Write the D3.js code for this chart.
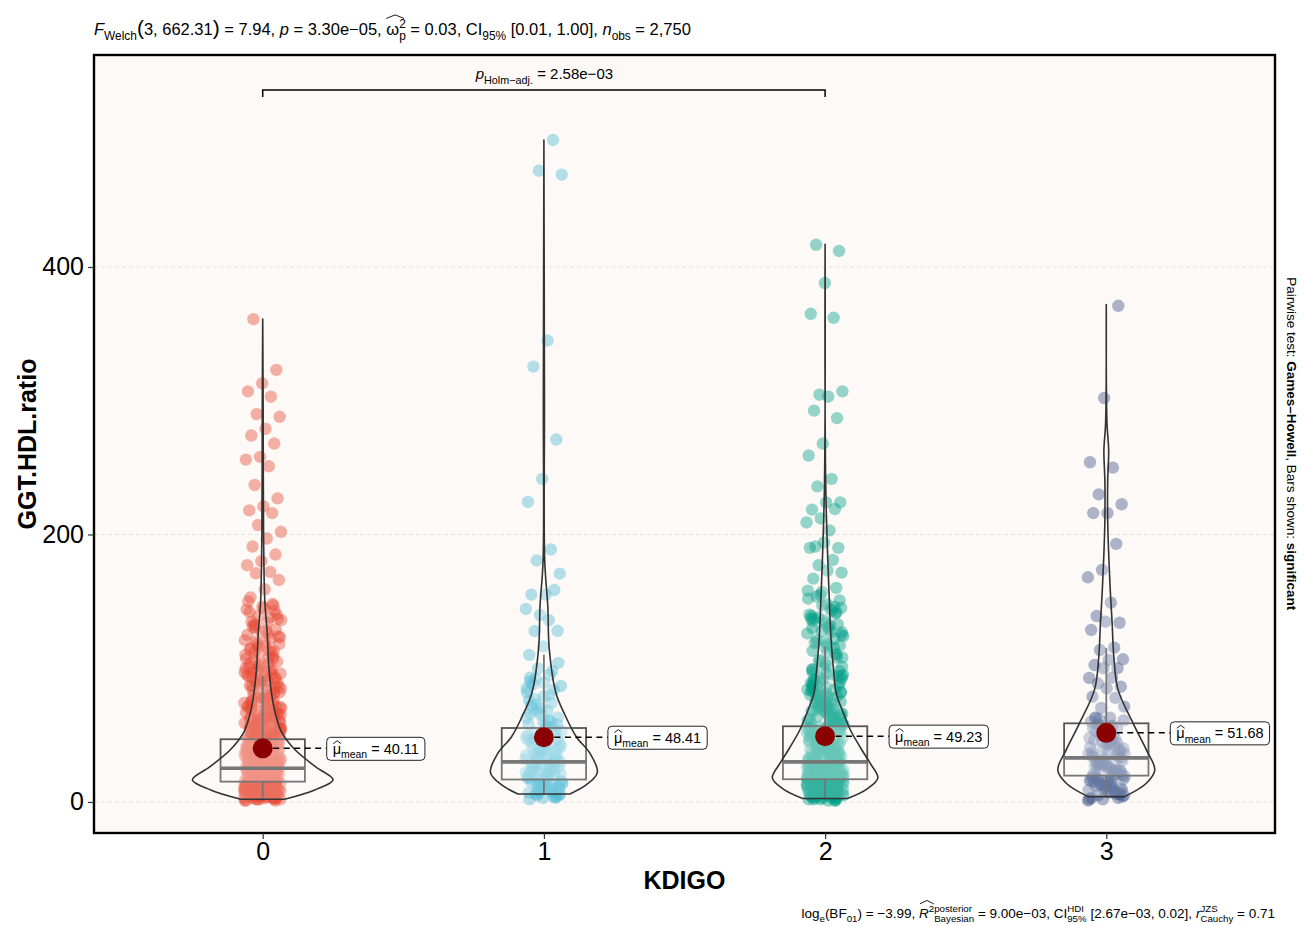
<!DOCTYPE html>
<html><head><meta charset="utf-8">
<script src="https://cdn.jsdelivr.net/npm/d3@7"></script>
<style>body{margin:0;background:#fff}svg{display:block;font-family:"Liberation Sans",Arial,Helvetica,sans-serif}</style>
</head><body><svg id="c" width="1306" height="926"></svg>
<script>
// ---------------- data ----------------
const categories = ["0","1","2","3"];
const groupColors = ["#E64B35","#4DBBD5","#00A087","#3C5488"];
const meanValues = [40.11, 48.41, 49.23, 51.68];
const meanLabels = ["40.11","48.41","49.23","51.68"];
const q1Values = [15.2, 16.8, 17.0, 19.7];
const medianValues = [25.2, 30.0, 30.0, 33.0];
const q3Values = [46.9, 55.3, 56.6, 58.8];
const whiskerLow = [1.5, 6, 2.6, 4];
const whiskerHigh = [94, 110, 116, 115];
const yTicks = [0, 200, 400];

// violin outlines: [value, relative half-width]
const violin0 = [[2,0.31],[9,0.74],[16.5,1.0],[26,0.76],[39,0.46],[52,0.27],[64,0.19],[76,0.14],[101,0.086],[126,0.064],[150,0.03],[200,0.012],[300,0.006],[361,0]];
const violin1 = [[6,0.37],[12.7,0.6],[22,0.76],[36,0.66],[48.8,0.46],[65,0.3],[81.7,0.17],[114.7,0.076],[147.6,0.054],[180,0.012],[300,0.008],[495,0]];
const violin2 = [[2.6,0.32],[9.8,0.6],[18,0.75],[29,0.64],[40,0.51],[53.8,0.36],[67.7,0.25],[81.5,0.157],[95.4,0.126],[123,0.083],[151,0.06],[234,0.01],[417,0]];
const violin3 = [[4,0.26],[14,0.57],[24,0.69],[39,0.57],[59,0.38],[84,0.167],[108.6,0.107],[134,0.083],[158,0.057],[208,0.021],[240,0.02],[263,0.034],[283,0.01],[372,0]];

// observations (GGT.HDL.ratio) per KDIGO group
const values0 = [
3,7,12,18,24,31,9,15,21,27,35,44,5,11,17,22,29,38,48,60,
2,8,13,19,26,33,41,52,66,4,10,16,23,28,36,45,57,71,6,14,
20,25,32,39,50,63,78,1,9,12,17,24,30,37,46,55,68,84,3,8,
15,19,26,34,42,53,64,75,6,11,18,22,27,33,40,49,59,72,87,2,
7,13,16,21,28,35,43,51,62,74,4,10,14,20,25,31,38,47,58,69,
81,5,9,12,17,23,29,36,44,54,65,77,3,8,13,18,24,30,39,48,
56,67,79,1,6,11,16,22,27,34,41,50,61,73,86,4,10,15,19,26,
32,40,46,57,70,83,7,12,18,23,28,37,45,53,63,76,2,9,14,21,
25,33,42,49,60,71,80,5,11,17,24,30,36,43,52,62,74,88,8,13,
20,27,35,47,58,68,82,3,16,22,29,38,44,55,66,78,6,19,31,54,
4,10,14,19,23,28,33,39,45,52,6,12,16,21,26,31,36,42,50,58,
2,8,13,17,22,27,32,37,43,49,56,64,5,9,15,20,25,30,35,41,
47,53,61,70,3,7,11,16,19,24,29,34,40,46,55,65,76,1,10,14,
18,23,27,33,38,44,51,59,68,80,6,12,15,21,26,30,36,43,48,57,
67,73,4,8,13,17,22,28,32,39,45,54,62,71,79,2,9,11,20,24,
29,34,41,47,56,63,72,84,5,14,18,25,31,37,42,50,60,66,77,87,
3,7,12,16,21,26,35,40,46,53,61,69,75,82,91,100,104,112,
89,92,94,96,99,85,91,97,93,88,95,98,90,86,94,
104,109,116,121,126,133,140,146,150,112,118,123,128,135,143,101,107,113,130,137,
145,142,148,139,136,134,131,129,127,125,122,120,118,117,115,113,111,110,108,106,
105,103,101,99,98,96,95,93,92,90,144,138,132,124,119,114,107,102,97,91,
361,323,313,307,303,290,288,279,274,268,258,256,251,237,227,221,218,216,207,202,
197,191,185,180,177,172,171,166,159,153,147];
const values1 = [
5,10,16,22,29,37,48,61,77,8,13,19,26,33,42,55,70,3,12,18,
24,31,40,51,66,84,7,14,21,27,35,45,58,74,9,15,20,28,38,49,
63,80,6,11,17,23,30,39,53,68,88,4,13,19,25,34,44,57,72,10,
16,22,29,36,47,60,76,8,14,21,32,41,52,65,82,11,18,26,43,90,
4,9,14,19,25,31,38,46,56,68,6,11,17,23,28,35,43,52,63,79,
2,8,12,16,21,27,33,40,50,60,73,5,10,15,20,26,32,39,47,58,
3,7,13,24,30,36,44,54,70,85,
95,92,104,89,93,
495,472,469,345,325.5,271,241.5,224.3,188.8,180.6,170.7,155,155,158.5,139.8,144.3,136,127.8,128,116.3,
110,98,99.8,86.7];
const values2 = [
4,9,14,20,27,35,45,57,70,86,2,7,12,17,23,30,39,50,63,78,
95,6,11,16,22,28,36,46,58,72,88,3,8,13,19,25,32,41,52,65,
80,101,5,10,15,21,26,34,43,54,67,83,1,9,14,18,24,31,40,49,
60,74,92,112,4,8,12,17,22,29,37,47,59,73,90,6,11,16,20,27,
33,42,53,66,81,99,3,7,13,18,23,30,38,48,61,76,94,118,2,10,
15,21,26,35,44,55,68,84,105,5,9,14,19,25,32,39,51,64,79,97,
8,12,17,24,28,36,45,56,69,85,108,1,6,11,16,22,30,41,58,71,
87,3,10,20,27,34,43,53,62,77,93,125,7,13,18,25,31,40,50,63,
75,89,115,4,9,15,21,29,37,46,57,70,82,102,130,12,19,26,35,48,
5,14,23,33,44,59,73,91,110,8,17,28,39,52,67,84,122,2,24,36,
3,8,13,18,24,29,34,42,51,60,71,84,6,11,16,21,27,33,40,48,
57,68,79,92,2,7,12,17,23,28,35,43,52,62,74,87,100,5,10,15,
20,25,31,38,46,55,65,76,89,104,4,9,14,19,26,32,37,44,53,63,
72,82,96,113,1,6,11,16,22,27,33,39,47,56,66,78,91,108,3,8,
13,18,23,29,36,42,49,58,69,81,94,120,7,12,17,22,28,34,41,50,
61,70,83,98,116,137,5,10,15,21,26,31,38,45,54,64,75,86,99,111,
9,19,30,42,55,68,80,95,106,127,
131,137,142,147,152,127,121,117,134,139,146,155,124,129,119,
133,136,140,143,138,145,148,135,141,128,126,132,
416.6,412,388,365,362,304.5,307,303,292.6,287,268,259,241.6,236,224,224,218.6,219,212,209,
203,191,190,194,190,181,177,171.5,173,167,160,157,158,144,153.5,150.7];
const values3 = [
4,9,15,21,28,36,46,58,7,12,18,24,31,40,51,63,3,10,16,22,
27,33,43,55,6,13,19,25,30,38,48,60,8,14,20,26,34,44,53,2,
11,17,23,29,37,47,57,5,12,18,24,32,41,50,62,9,15,21,35,45,
1,14,28,39,52,
3,8,13,17,22,27,33,40,48,57,5,10,15,19,24,29,36,44,53,6,
11,16,20,26,31,38,46,55,2,9,14,18,23,28,34,42,50,61,7,12,
371,302,254,250,230,222.6,216,216,193,173.5,168,149,139,134,134.8,128.6,115.4,113.6,106.7,106.2,
102.4,100,100,92.7,93,88.7,86.2,85,78.7,77.8,70.3,71.3,63,63];

const groupValues = [values0, values1, values2, values3];
const violins = [violin0, violin1, violin2, violin3];

// ---------------- layout ----------------
const svg = d3.select("#c");
const P = {l:94, r:1275, t:55, b:833};
const x = d3.scalePoint().domain(categories).range([P.l, P.r]).padding(0.6);
const y = d3.scaleLinear().domain([-23.2, 558.5]).range([P.b, P.t]);
const step = x.step();
const vw = d3.scaleLinear().domain([0,1]).range([0, 0.25*step]);
const boxHalf = 0.15*step;
const jitterHalf = 0.066*step;
const ptR = 6.2;

svg.append("rect").attr("x",P.l).attr("y",P.t).attr("width",P.r-P.l).attr("height",P.b-P.t).attr("fill","#FDF9F6");

// grid
svg.append("g").selectAll("line").data(yTicks).join("line")
  .attr("x1",P.l).attr("x2",P.r).attr("y1",d=>y(d)).attr("y2",d=>y(d))
  .attr("stroke","#E2DDD8").attr("stroke-width",0.9).attr("stroke-dasharray","4,3");

const plot = svg.append("g");
// points
categories.forEach((c,gi)=>{
  plot.append("g").selectAll("circle").data(groupValues[gi]).join("circle")
    .attr("cx",(d,i)=> x(c) + (((i*0.6180339887 + gi*0.31) % 1) - 0.5)*2*jitterHalf)
    .attr("cy",d=>y(d)).attr("r",ptR)
    .attr("fill",groupColors[gi]).attr("fill-opacity",0.42);
});
// boxplots
categories.forEach((c,gi)=>{
  const g = plot.append("g");
  const cx = x(c);
  g.append("line").attr("x1",cx).attr("x2",cx).attr("y1",y(q3Values[gi])).attr("y2",y(whiskerHigh[gi])).attr("stroke","#555").attr("stroke-width",1.8);
  g.append("line").attr("x1",cx).attr("x2",cx).attr("y1",y(q1Values[gi])).attr("y2",y(whiskerLow[gi])).attr("stroke","#555").attr("stroke-width",1.8);
  g.append("rect").attr("x",cx-boxHalf).attr("width",2*boxHalf).attr("y",y(q3Values[gi])).attr("height",y(q1Values[gi])-y(q3Values[gi]))
    .attr("fill","#fff").attr("fill-opacity",0.25).attr("stroke","#555").attr("stroke-width",1.8);
  g.append("line").attr("x1",cx-boxHalf).attr("x2",cx+boxHalf).attr("y1",y(medianValues[gi])).attr("y2",y(medianValues[gi])).attr("stroke","#555").attr("stroke-width",3.6);
});
// violins
categories.forEach((c,gi)=>{
  const cx = x(c);
  const area = d3.area().y(d=>y(d[0])).x0(d=>cx - vw(d[1])).x1(d=>cx + vw(d[1])).curve(d3.curveCatmullRom);
  plot.append("path").attr("d",area(violins[gi])).attr("fill","#fff").attr("fill-opacity",0.2)
    .attr("stroke","#333").attr("stroke-width",1.6).attr("stroke-linejoin","round");
});

// rich text helper (sub/superscripts, stacked scripts, hats)
function rich(parent, x0, y0, size, parts, anchor){
  const t = parent.append("text").attr("x",x0).attr("y",y0).attr("font-size",size).attr("fill","#000");
  let cur = 0, pendingDx = 0, nChar = 0;
  const hats = [];
  const subS = size*0.32, supS = -size*0.42, small = size*0.72;
  function add(txt, shift, o){
    o = o||{};
    const ts = t.append("tspan").attr("dy", shift-cur).text(txt);
    cur = shift;
    if (o.small) ts.attr("font-size", small);
    if (o.it) ts.attr("font-style","italic");
    if (o.bold) ts.attr("font-weight","bold");
    if (o.fs) ts.attr("font-size", o.fs);
    const dx = (o.dx||0) + pendingDx; pendingDx = 0;
    if (dx) ts.attr("dx", dx);
    nChar += txt.length;
    return ts;
  }
  parts.forEach(p=>{
    if (p.stack){
      const a = add(p.stack.sup, supS, {small:1});
      const la = a.node().getComputedTextLength();
      const b = add(p.stack.sub, subS, {small:1, dx:-la});
      const lb = b.node().getComputedTextLength();
      if (la>lb) pendingDx = la-lb;
    } else {
      const idx = nChar;
      add(p.t, p.sub?subS:(p.sup?supS:0), {small:p.sub||p.sup, it:p.it, bold:p.bold, fs:p.fs});
      if (p.hat) hats.push({idx, h:p.hat});
    }
  });
  if (anchor && anchor!=="start"){
    const bb = t.node().getBBox();
    const shift = anchor==="end" ? x0-(bb.x+bb.width) : x0-(bb.x+bb.width/2);
    t.attr("x", x0+shift);
  }
  hats.forEach(({idx,h})=>{
    const e = t.node().getExtentOfChar(idx);
    const x1 = e.x + (h.inset||0), x2 = e.x + e.width + (h.extra||0);
    const base = y0 - size*h.base, apex = y0 - size*h.apex;
    parent.append("path").attr("d",`M${x1},${base}L${(x1+x2)/2},${apex}L${x2},${base}`)
      .attr("fill","none").attr("stroke","#000").attr("stroke-width",0.9);
  });
  return t;
}

// means + labels
categories.forEach((c,gi)=>{
  const cx = x(c), cy = y(meanValues[gi]);
  const g = svg.append("g");
  const lx = cx + 64;
  g.append("line").attr("x1",cx).attr("x2",lx).attr("y1",cy).attr("y2",cy).attr("stroke","#000").attr("stroke-width",1.5).attr("stroke-dasharray","6,4.5");
  g.append("circle").attr("cx",cx).attr("cy",cy).attr("r",10).attr("fill","#8B0000");
  const box = g.append("rect");
  const t = rich(g, lx+6, cy+5.5, 14.5, [{t:"\u03BC",hat:{base:0.7,apex:0.9,inset:0.5,extra:0}},{t:"mean",sub:1},{t:" = "+meanLabels[gi]}]);
  const bb = t.node().getBBox();
  box.attr("x",lx).attr("y",cy-11).attr("width",bb.width+12).attr("height",23).attr("rx",4)
    .attr("fill","#fff").attr("stroke","#222").attr("stroke-width",1);
});

// panel border
svg.append("rect").attr("x",P.l).attr("y",P.t).attr("width",P.r-P.l).attr("height",P.b-P.t).attr("fill","none").attr("stroke","#000").attr("stroke-width",2.4);

// axes
const yAxis = svg.append("g").attr("transform",`translate(${P.l},0)`).call(d3.axisLeft(y).tickValues(yTicks).tickSize(6).tickPadding(4));
const xAxis = svg.append("g").attr("transform",`translate(0,${P.b})`).call(d3.axisBottom(x).tickSize(6).tickPadding(3));
[yAxis,xAxis].forEach(a=>{
  a.select(".domain").remove();
  a.selectAll(".tick line").attr("stroke","#333").attr("stroke-width",1.2);
  a.selectAll(".tick text").attr("font-size",25).attr("fill","#000").attr("font-family","'Liberation Sans',Arial,sans-serif");
});

svg.append("text").attr("x",(P.l+P.r)/2).attr("y",889).attr("text-anchor","middle").attr("font-size",25).attr("font-weight","bold").text("KDIGO");
svg.append("text").attr("transform",`translate(36,${(P.t+P.b)/2}) rotate(-90)`).attr("text-anchor","middle").attr("font-size",25).attr("font-weight","bold").text("GGT.HDL.ratio");

// significance bracket
const xa = x(categories[0]), xb = x(categories[2]);
svg.append("path").attr("d",`M${xa},97V90H${xb}V97`).attr("fill","none").attr("stroke","#000").attr("stroke-width",1.5);
rich(svg, (xa+xb)/2, 79, 15, [{t:"p",it:1},{t:"Holm\u2212adj.",sub:1},{t:" = 2.58e\u221203"}], "middle");

// title
rich(svg, 94, 35, 16.5, [{t:"F",it:1},{t:"Welch",sub:1},{t:"(",fs:21},{t:"3, 662.31"},{t:")",fs:21},{t:" = 7.94, "},{t:"p",it:1},{t:" = 3.30e\u221205, "},{t:"\u03C9",hat:{base:1.0,apex:1.22,inset:0,extra:5}},{stack:{sup:"2",sub:"p"}},{t:" = 0.03, CI"},{t:"95%",sub:1},{t:" [0.01, 1.00], "},{t:"n",it:1},{t:"obs",sub:1},{t:" = 2,750"}]);

// caption
rich(svg, 1275, 918, 13.5, [{t:"log"},{t:"e",sub:1},{t:"(BF"},{t:"01",sub:1},{t:") = \u22123.99, "},{t:"R",it:1,hat:{base:1.05,apex:1.3,inset:1,extra:5}},{t:"2",sup:1},{stack:{sup:"posterior",sub:"Bayesian"}},{t:" = 9.00e\u221203, CI"},{stack:{sup:"HDI",sub:"95%"}},{t:" [2.67e\u221203, 0.02], "},{t:"r",it:1},{stack:{sup:"JZS",sub:"Cauchy"}},{t:" = 0.71"}], "end");

// right side text
const rg = svg.append("g").attr("transform","translate(1287,444) rotate(90)");
rich(rg, 0, 0, 13.5, [{t:"Pairwise test: "},{t:"Games\u2013Howell",bold:1},{t:", Bars shown: "},{t:"significant",bold:1}], "middle");
</script></body></html>
